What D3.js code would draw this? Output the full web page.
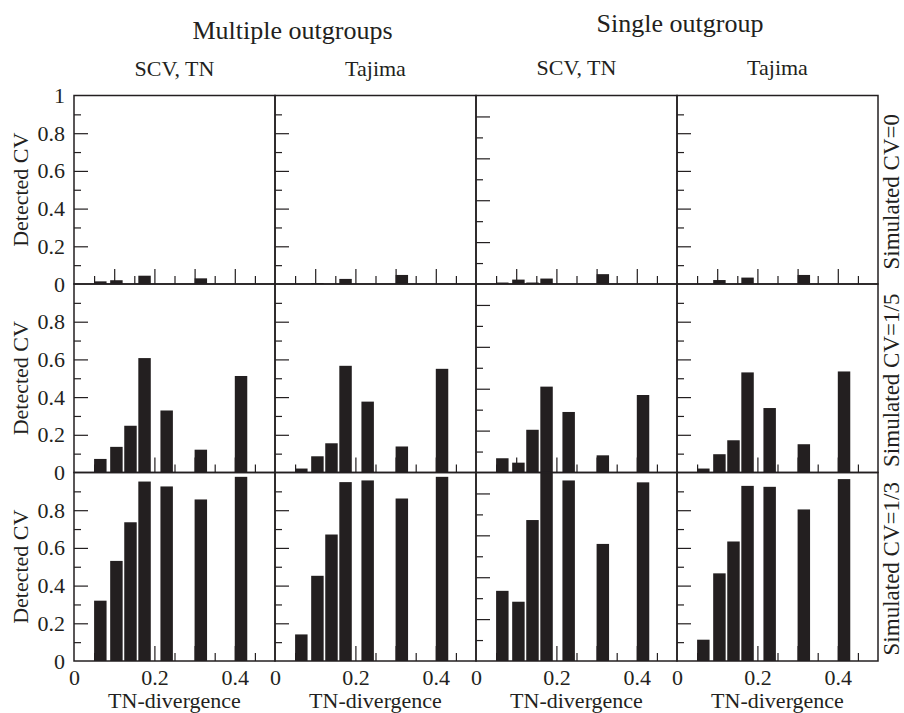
<!DOCTYPE html>
<html>
<head>
<meta charset="utf-8">
<script src="https://cdn.jsdelivr.net/npm/d3@7"></script>
<style>
  body { margin: 0; background: #fff; }
  svg { display: block; }
  text { font-family: "Liberation Serif", "Times New Roman", serif; fill: #231f20; }
</style>
</head>
<body>
<div id="chart"></div>
<script>
// TN-divergence of each simulated data set (left edge of its bar)
const divergence = [0.05, 0.09, 0.125, 0.16, 0.215, 0.30, 0.40];
const groups = ["Multiple outgroups", "Single outgroup"];
const columns = ["SCV, TN", "Tajima", "SCV, TN", "Tajima"];
const rows = ["Simulated CV=0", "Simulated CV=1/5", "Simulated CV=1/3"];
// top of the y scale in each column (the 3rd panel column was drawn on its own scale)
const yTop = [1, 1, 0.9, 1];
const yLabels = [[0, 0.2, 0.4, 0.6, 0.8, 1], [0, 0.2, 0.4, 0.6, 0.8], [0, 0.2, 0.4, 0.6, 0.8]];
const xLabels = [0, 0.2, 0.4];

// detected CV: one list per column
const detectedCV0 = [
  [0.014, 0.02, 0, 0.044, 0, 0.03, 0],
  [0, 0.005, 0, 0.027, 0, 0.048, 0],
  [0.007, 0.021, 0.007, 0.026, 0, 0.047, 0],
  [0, 0.021, 0, 0.034, 0, 0.048, 0]
];
const detectedCV15 = [
  [0.072, 0.136, 0.248, 0.607, 0.329, 0.121, 0.512],
  [0.021, 0.086, 0.155, 0.566, 0.376, 0.138, 0.55],
  [0.068, 0.047, 0.204, 0.41, 0.289, 0.082, 0.37],
  [0.021, 0.097, 0.171, 0.531, 0.342, 0.15, 0.536]
];
const detectedCV13 = [
  [0.32, 0.531, 0.736, 0.952, 0.926, 0.857, 0.977],
  [0.141, 0.452, 0.671, 0.949, 0.958, 0.862, 0.977],
  [0.335, 0.283, 0.673, 0.9, 0.862, 0.559, 0.853],
  [0.113, 0.465, 0.634, 0.929, 0.924, 0.804, 0.965]
];
const rowData = [detectedCV0, detectedCV15, detectedCV13];

const ink = "#231f20";
const W = 904, H = 713;
const plotLeft = 74, colW = 201, plotTop = 95.5, rowH = 188.5;
const barW = 0.031;

const svg = d3.select("#chart").append("svg")
  .attr("width", W).attr("height", H);

function styleAxis(g, size) {
  g.attr("font-family", null).attr("font-size", size).attr("color", ink);
  g.select(".domain").remove();
  g.selectAll("line").attr("stroke-width", 1.2);
}

rowData.forEach((cols, r) => {
  cols.forEach((vals, c) => {
    const g = svg.append("g")
      .attr("transform", `translate(${plotLeft + c * colW},${plotTop + r * rowH})`);

    const x = d3.scaleLinear().domain([0, 0.5]).range([0, colW]);
    const y = d3.scaleLinear().domain([0, yTop[c]]).range([rowH, 0]);

    // inward tick marks
    const tenths = d3.range(1, Math.round(yTop[c] * 10)).map(i => i / 10);
    g.append("g")
      .call(d3.axisRight(y).tickValues(tenths.filter((d, i) => i % 2 === 1)).tickSize(14).tickFormat(""))
      .call(styleAxis, 10);
    g.append("g")
      .call(d3.axisRight(y).tickValues(tenths.filter((d, i) => i % 2 === 0)).tickSize(7).tickFormat(""))
      .call(styleAxis, 10);
    g.append("g")
      .attr("transform", `translate(0,${rowH})`)
      .call(d3.axisTop(x).tickValues([0.1, 0.2, 0.3, 0.4]).tickSize(15).tickFormat(""))
      .call(styleAxis, 10);
    g.append("g")
      .attr("transform", `translate(0,${rowH})`)
      .call(d3.axisTop(x).tickValues([0.05, 0.15, 0.25, 0.35, 0.45]).tickSize(8).tickFormat(""))
      .call(styleAxis, 10);

    // bars
    g.selectAll("rect.bar")
      .data(vals.map((v, i) => ({ x: divergence[i], v })))
      .join("rect")
        .attr("class", "bar")
        .attr("x", d => x(d.x))
        .attr("width", d => x(d.x + barW) - x(d.x))
        .attr("y", d => y(Math.min(d.v, yTop[c])))
        .attr("height", d => rowH - y(Math.min(d.v, yTop[c])))
        .attr("fill", ink);

    // frame
    g.append("rect")
      .attr("width", colW).attr("height", rowH)
      .attr("fill", "none").attr("stroke", ink).attr("stroke-width", 1.5);

    if (c === 0) {
      g.append("g")
        .call(d3.axisLeft(y).tickValues(yLabels[r]).tickSize(0).tickPadding(9).tickFormat(d3.format("")))
        .call(styleAxis, 22);
      g.append("text")
        .attr("transform", `translate(-46,${rowH / 2}) rotate(-90)`)
        .attr("text-anchor", "middle")
        .attr("font-size", 22)
        .text("Detected CV");
    }
    if (r === rowData.length - 1) {
      g.append("g")
        .attr("transform", `translate(0,${rowH})`)
        .call(d3.axisBottom(x).tickValues(xLabels).tickSize(0).tickPadding(8).tickFormat(d3.format("")))
        .call(styleAxis, 22);
      g.append("text")
        .attr("x", colW / 2).attr("y", rowH + 47)
        .attr("text-anchor", "middle")
        .attr("font-size", 22)
        .text("TN-divergence");
    }
    if (r === 0) {
      g.append("text")
        .attr("x", colW / 2).attr("y", c < 2 ? -19.5 : -20.5)
        .attr("text-anchor", "middle")
        .attr("font-size", 22)
        .text(columns[c]);
    }
    if (c === cols.length - 1) {
      g.append("text")
        .attr("transform", `translate(${colW + 21},${rowH / 2 + 2}) rotate(-90)`)
        .attr("text-anchor", "middle")
        .attr("font-size", 23)
        .text(rows[r]);
    }
  });
});

// group titles
svg.append("text")
  .attr("x", 292.5).attr("y", 39)
  .attr("text-anchor", "middle").attr("font-size", 26)
  .text(groups[0]);
svg.append("text")
  .attr("x", 680).attr("y", 32)
  .attr("text-anchor", "middle").attr("font-size", 26)
  .text(groups[1]);
</script>
</body>
</html>
